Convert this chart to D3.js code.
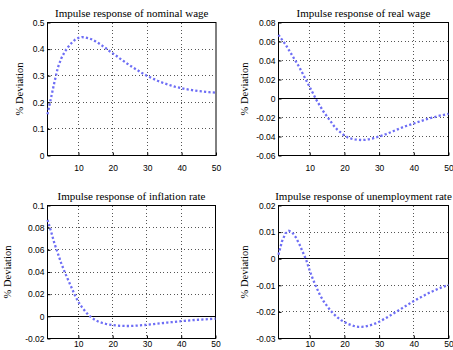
<!DOCTYPE html>
<html>
<head>
<meta charset="utf-8">
<script src="https://cdn.jsdelivr.net/npm/d3@7"></script>
<style>
  body { margin: 0; background: #fff; }
  .tick text { font-family: "Liberation Sans", Arial, sans-serif; font-size: 8.5px; fill: #000; }
  .title, .ylab { font-family: "Liberation Serif", "Times New Roman", serif; fill: #000; }
</style>
</head>
<body>
<div id="chart"></div>
<script>
// periods 1..50
const periods = d3.range(1, 51);

const nominalWage = [
  0.155, 0.215, 0.275, 0.330, 0.365, 0.390, 0.408, 0.423, 0.435, 0.442,
  0.445, 0.444, 0.441, 0.436, 0.429, 0.421, 0.412, 0.403, 0.393, 0.384,
  0.375, 0.365, 0.356, 0.347, 0.338, 0.330, 0.322, 0.314, 0.306, 0.299,
  0.293, 0.287, 0.281, 0.276, 0.271, 0.267, 0.263, 0.259, 0.256, 0.253,
  0.250, 0.248, 0.246, 0.244, 0.242, 0.241, 0.239, 0.238, 0.237, 0.236
];

const realWage = [
  0.067, 0.062, 0.057, 0.051, 0.045, 0.039, 0.033, 0.026, 0.019, 0.012,
  0.005, -0.002, -0.008, -0.014, -0.019, -0.024, -0.029, -0.033, -0.036, -0.039,
  -0.041, -0.0422, -0.043, -0.0435, -0.0437, -0.0435, -0.043, -0.0422, -0.041, -0.040,
  -0.0388, -0.0375, -0.036, -0.0345, -0.033, -0.0315, -0.030, -0.0287, -0.0275, -0.0263,
  -0.025, -0.0238, -0.0226, -0.0215, -0.0205, -0.0195, -0.0185, -0.0177, -0.0169, -0.0162
];

const inflation = [
  0.087, 0.077, 0.066, 0.057, 0.048, 0.040, 0.033, 0.026, 0.019, 0.013,
  0.0085, 0.0045, 0.001, -0.0015, -0.0035, -0.005, -0.006, -0.0068, -0.0074, -0.0079,
  -0.0082, -0.0085, -0.0086, -0.0087, -0.0087, -0.0086, -0.0084, -0.0082, -0.0079, -0.0076,
  -0.0073, -0.007, -0.0066, -0.0063, -0.006, -0.0056, -0.0053, -0.005, -0.0047, -0.0044,
  -0.0041, -0.0038, -0.0036, -0.0033, -0.0031, -0.0029, -0.0027, -0.0025, -0.0023, -0.0021
];

const unemployment = [
  0.0015, 0.0065, 0.0095, 0.0105, 0.0098, 0.0080, 0.0055, 0.0025, -0.0005, -0.0045,
  -0.0080, -0.0110, -0.0138, -0.0160, -0.0178, -0.0195, -0.0209, -0.0221, -0.0231, -0.0238,
  -0.0245, -0.0250, -0.0254, -0.0256, -0.0256, -0.0255, -0.0252, -0.0248, -0.0243, -0.0237,
  -0.0230, -0.0223, -0.0215, -0.0207, -0.0199, -0.0191, -0.0183, -0.0175, -0.0167, -0.0159,
  -0.0152, -0.0145, -0.0138, -0.0131, -0.0125, -0.0119, -0.0113, -0.0108, -0.0103, -0.0098
];

const titles = [
  'Impulse response of nominal wage',
  'Impulse response of real wage',
  'Impulse response of inflation rate',
  'Impulse response of unemployment rate'
];
const xTicks = [10, 20, 30, 40, 50];
const yTicks = [
  [0, 0.1, 0.2, 0.3, 0.4, 0.5],
  [-0.06, -0.04, -0.02, 0, 0.02, 0.04, 0.06, 0.08],
  [-0.02, 0, 0.02, 0.04, 0.06, 0.08, 0.1],
  [-0.03, -0.02, -0.01, 0, 0.01, 0.02]
];
const yDomains = [[0, 0.5], [-0.06, 0.08], [-0.02, 0.1], [-0.03, 0.02]];
const series = [nominalWage, realWage, inflation, unemployment];
const showZero = [false, true, true, true];

// plot boxes in pixels, plus label offsets
const boxes = [
  { x0: 47.5, x1: 216, y0: 22.5, y1: 155.5, ylabDx: 25, xPad: 9 },
  { x0: 278.5, x1: 448.5, y0: 22.5, y1: 155.5, ylabDx: 31, xPad: 9 },
  { x0: 47.5, x1: 215.5, y0: 205.5, y1: 338.5, ylabDx: 37, xPad: 2 },
  { x0: 278.5, x1: 448.5, y0: 205.5, y1: 338.5, ylabDx: 31, xPad: 2 }
];

const svg = d3.select('#chart').append('svg')
  .attr('width', 453).attr('height', 350)
  .style('background', '#fff');

const fmt = (d) => (d === 0 ? '0' : String(+d.toFixed(3)));
const snap = (v) => Math.round(v - 0.5) + 0.5;

boxes.forEach((b, i) => {
  const x = d3.scaleLinear().domain([1, 50]).range([b.x0, b.x1]);
  const y = d3.scaleLinear().domain(yDomains[i]).range([b.y1, b.y0]);
  const g = svg.append('g');

  // grid, dotted
  const grid = g.append('g')
    .attr('stroke', '#555').attr('stroke-width', 1)
    .attr('stroke-dasharray', '1,2.5').attr('shape-rendering', 'crispEdges');
  grid.selectAll('line.v').data(xTicks.filter((t) => t < 50)).enter()
    .append('line').attr('class', 'v')
    .attr('x1', (d) => snap(x(d))).attr('x2', (d) => snap(x(d)))
    .attr('y1', b.y0).attr('y2', b.y1);
  grid.selectAll('line.h').data(yTicks[i].slice(1, -1).filter((t) => !(showZero[i] && t === 0))).enter()
    .append('line').attr('class', 'h')
    .attr('x1', b.x0).attr('x2', b.x1)
    .attr('y1', (d) => snap(y(d))).attr('y2', (d) => snap(y(d)));

  if (showZero[i]) {
    g.append('line')
      .attr('x1', b.x0).attr('x2', b.x1)
      .attr('y1', snap(y(0))).attr('y2', snap(y(0)))
      .attr('stroke', '#000').attr('stroke-width', 1);
  }

  // axes
  g.append('g')
    .attr('transform', `translate(0,${b.y1})`)
    .call(d3.axisBottom(x).tickValues(xTicks).tickSize(-3).tickPadding(b.xPad).tickSizeOuter(0))
    .call((a) => a.select('.domain').remove());
  g.append('g')
    .attr('transform', `translate(${b.x0},0)`)
    .call(d3.axisLeft(y).tickValues(yTicks[i]).tickFormat(fmt).tickSize(-3).tickPadding(3).tickSizeOuter(0))
    .call((a) => a.select('.domain').remove());

  // box
  g.append('rect')
    .attr('x', b.x0).attr('y', b.y0)
    .attr('width', b.x1 - b.x0).attr('height', b.y1 - b.y0)
    .attr('fill', 'none').attr('stroke', '#000').attr('stroke-width', 1);

  // series
  const line = d3.line().x((d, k) => x(periods[k])).y((d) => y(d));
  g.append('path')
    .datum(series[i])
    .attr('d', line)
    .attr('fill', 'none')
    .attr('stroke', '#6e6ef5')
    .attr('stroke-width', 2.3)
    .attr('stroke-dasharray', '2.2,2.2');

  // labels
  g.append('text').attr('class', 'title')
    .attr('x', (b.x0 + b.x1) / 2).attr('y', b.y0 - 6)
    .attr('text-anchor', 'middle').style('font-size', '11px')
    .text(titles[i]);
  g.append('text').attr('class', 'ylab')
    .attr('transform', `translate(${b.x0 - b.ylabDx},${(b.y0 + b.y1) / 2}) rotate(-90)`)
    .attr('text-anchor', 'middle').style('font-size', '10.5px')
    .text('% Deviation');
});
</script>
</body>
</html>
